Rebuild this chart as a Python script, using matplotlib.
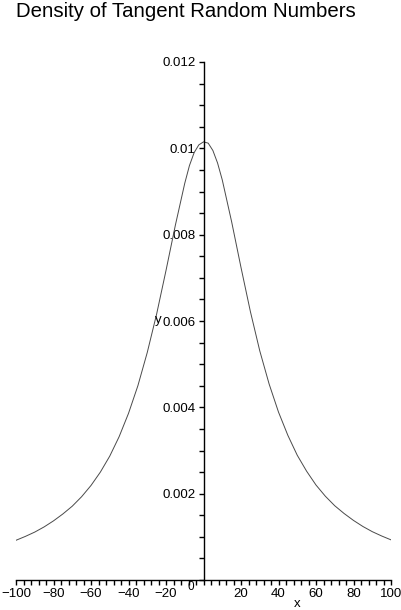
import matplotlib
matplotlib.use("Agg")
import matplotlib.pyplot as plt
from matplotlib.ticker import MultipleLocator

plt.rcParams['font.family'] = ['Liberation Sans', 'DejaVu Sans']

# Density curve
x_vals = [-100, -95, -90, -85, -80, -75, -70, -65, -60, -55, -50, -45, -40,
          -35, -30, -25, -20, -15, -10, -7.5, -5, -2.5, 0, 2.5, 5, 7.5, 10,
          15, 20, 25, 30, 35, 40, 45, 50, 55, 60, 65, 70, 75, 80, 85, 90,
          95, 100]
density = [0.00092, 0.00101, 0.00111, 0.00123, 0.00137, 0.00153, 0.00171,
           0.00193, 0.00219, 0.00250, 0.00287, 0.00332, 0.00386, 0.00450,
           0.00527, 0.00616, 0.00717, 0.00822, 0.00919, 0.00960, 0.00990,
           0.01008, 0.01015, 0.01012, 0.00995, 0.00966, 0.00927, 0.00830,
           0.00724, 0.00622, 0.00531, 0.00454, 0.00389, 0.00335, 0.00289,
           0.00252, 0.00220, 0.00194, 0.00172, 0.00154, 0.00138, 0.00124,
           0.00112, 0.00102, 0.00093]

x_ticks = [-100, -80, -60, -40, -20, 20, 40, 60, 80, 100]
y_ticks = [0.002, 0.004, 0.006, 0.008, 0.01, 0.012]
y_labels = ["0.002", "0.004", "0.006", "0.008", "0.01", "0.012"]

fig = plt.figure(figsize=(4.02, 6.10), dpi=100)
ax = fig.add_axes([16 / 402, 30 / 610, 375 / 402, 518 / 610])

ax.plot(x_vals, density, color='#4a4a4a', lw=0.7)

ax.set_xlim(-100, 100)
ax.set_ylim(0, 0.012)

# axes through the origin, Maple style
ax.spines['left'].set_position(('data', 0))
ax.spines['bottom'].set_position(('data', 0))
ax.spines['top'].set_visible(False)
ax.spines['right'].set_visible(False)
for s in ['left', 'bottom']:
    ax.spines[s].set_linewidth(1.0)

ax.set_xticks(x_ticks)
ax.set_xticklabels([str(t).replace('-', '\u2212') for t in x_ticks])
ax.set_yticks(y_ticks)
ax.set_yticklabels(y_labels)
ax.xaxis.set_minor_locator(MultipleLocator(4))
ax.yaxis.set_minor_locator(MultipleLocator(0.0005))
ax.tick_params(which='both', direction='out', length=3.5, width=1.0,
               labelsize=9.5, pad=2)

# origin label
ax.annotate("0", (0, 0), xytext=(-9, -1), textcoords='offset points',
            ha='center', va='top', fontsize=8.5)

ax.text((158 - 16) / 375, (580 - 320) / 518, "y", transform=ax.transAxes,
        ha='center', va='center', fontsize=9.5)
fig.text(297 / 402, 1 - 604 / 610, "x", ha='center', va='center', fontsize=9.5)

fig.text(16 / 402, 1 - 2 / 610, "Density of Tangent Random Numbers",
         ha='left', va='top', fontsize=14.7)

fig.savefig("out.png", dpi=100)
